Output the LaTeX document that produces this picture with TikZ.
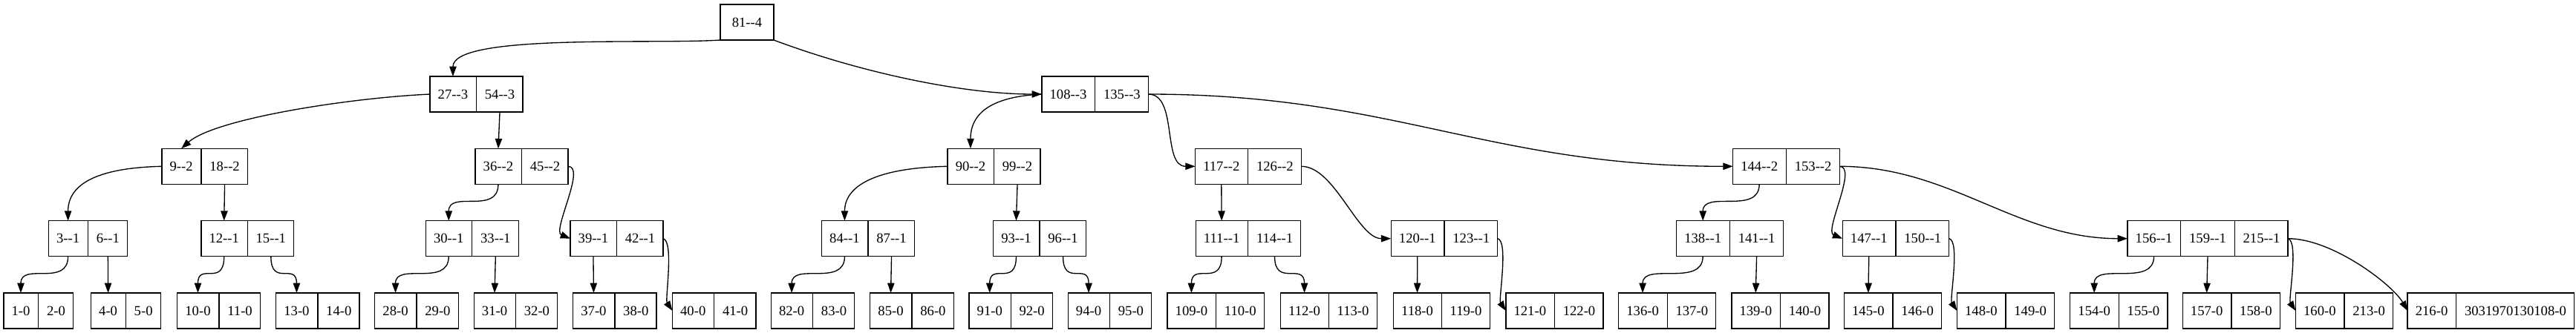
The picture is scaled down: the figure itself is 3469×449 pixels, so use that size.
\documentclass[tikz,border=0pt]{standalone}
\usepackage{fontspec}
\newfontfamily\gvfont{Liberation Serif}
\usetikzlibrary{shapes.multipart,arrows.meta}

\tikzset{
  fld/.style={draw, line width=1pt, outer sep=0pt, inner ysep=0pt, inner xsep=8pt,
    minimum height=36pt, font=\gvfont\fontsize{14}{16}\selectfont},
  rec/.style={fld, rectangle split, rectangle split horizontal, rectangle split parts=#1},
  edge/.style={line width=1pt, -{Triangle[length=10pt,width=7pt]}}
}

\begin{document}
\begin{tikzpicture}[x=0.75pt,y=-0.75pt]
\useasboundingbox (0,0) rectangle (3469,449);

% keys
\node[fld, minimum width=54pt] (n81) at (1006,30) {81--4};
\node[rec=2] (n27) at (641.5,127) {27--3\nodepart{two}54--3};
\node[rec=2] (n108) at (1474.7,127) {108--3\nodepart{two}135--3};

\node[rec=2] (n9) at (275.7,224.3) {9--2\nodepart{two}18--2};
\node[rec=2] (n36) at (702.5,224.3) {36--2\nodepart{two}45--2};
\node[rec=2] (n90) at (1338.5,224.3) {90--2\nodepart{two}99--2};
\node[rec=2] (n117) at (1681,224.3) {117--2\nodepart{two}126--2};
\node[rec=2] (n144) at (2405.4,224.3) {144--2\nodepart{two}153--2};

\node[rec=2] (n3) at (118.5,321.7) {3--1\nodepart{two}6--1};
\node[rec=2] (n12) at (333.3,321.7) {12--1\nodepart{two}15--1};
\node[rec=2] (n30) at (635.8,321.7) {30--1\nodepart{two}33--1};
\node[rec=2] (n39) at (830.5,321.7) {39--1\nodepart{two}42--1};
\node[rec=2] (n84) at (1169,321.7) {84--1\nodepart{two}87--1};
\node[rec=2] (n93) at (1400,321.7) {93--1\nodepart{two}96--1};
\node[rec=2] (n111) at (1681,321.7) {111--1\nodepart{two}114--1};
\node[rec=2] (n120) at (1945,321.7) {120--1\nodepart{two}123--1};
\node[rec=2] (n138) at (2329.4,321.7) {138--1\nodepart{two}141--1};
\node[rec=2] (n147) at (2553,321.7) {147--1\nodepart{two}150--1};
\node[rec=3] (n156) at (2973,321.7) {156--1\nodepart{two}159--1\nodepart{three}215--1};

% leaves
\foreach \x/\a/\b in {51.8/1/2, 169.4/4/5, 294.6/10/11, 427.9/13/14, 561/28/29,
  694.5/31/32, 827.9/37/38, 961.7/40/41, 1094.6/82/83, 1228/85/86, 1361.2/91/92,
  1494.5/94/95, 1637.2/109/110, 1789.3/112/113, 1941.3/118/119, 2093.4/121/122,
  2245.2/136/137, 2397.4/139/140, 2549/145/146, 2701/148/149, 2853.3/154/155,
  3004.8/157/158, 3157/160/213, 3354.3/216/3031970130108}
  \node[rec=2] (n\a) at (\x,419) {\a-0\nodepart{two}\b-0};

% level 0 -> 1
\draw[edge] (n81.south west) .. controls +(-90,6) and +(0,-58) .. (n27.one north);
\draw[edge] (n81.south east) .. controls +(120,45) and +(-104,0) .. (n108.west);

% level 1 -> 2
\draw[edge] (n27.west) .. controls +(-110,5) and +(45,-40) .. (n9.one north);
\draw[edge] (n27.two south) -- (n36.one north);
\draw[edge] (n108.west) .. controls +(-64,3) and +(0,-50) .. (n90.one north);
\draw[edge] (n108.east) .. controls +(40,0) and +(-45,0) .. (n117.west);
\draw[edge] (n108.east) .. controls +(330,0) and +(-330,0) .. (n144.west);

% level 2 -> 3
\draw[edge] (n9.west) .. controls +(-90,2) and +(0,-48) .. (n3.one north);
\draw[edge] (n9.two south) -- (n12.one north);
\draw[edge] (n36.one south) .. controls +(0,42) and +(0,-42) .. (n30.one north);
\draw[edge] (n36.east) .. controls +(25,0) and +(-25,-10) .. (n39.west);
\draw[edge] (n90.west) .. controls +(-95,2) and +(0,-48) .. (n84.one north);
\draw[edge] (n90.two south) -- (n93.one north);
\draw[edge] (n117.one south) -- (n111.one north);
\draw[edge] (n117.east) .. controls +(45,0) and +(-45,0) .. (n120.west);
\draw[edge] (n144.one south) .. controls +(0,42) and +(0,-42) .. (n138.one north);
\draw[edge] (n144.east) .. controls +(25,0) and +(-25,-10) .. (n147.west);
\draw[edge] (n144.east) .. controls +(150,0) and +(-150,0) .. (n156.west);

% level 3 -> 4
\foreach \s/\t in {n3.one south/n1, n12.one south/n10, n12.two south/n13,
  n30.one south/n28, n84.one south/n82, n93.one south/n91, n93.two south/n94,
  n111.one south/n109, n111.two south/n112, n138.one south/n136, n156.one south/n154}
  \draw[edge] (\s) .. controls +(0,42) and +(0,-42) .. (\t.one north);
\foreach \s/\t in {n3.two south/n4, n30.two south/n31, n39.one south/n37,
  n84.two south/n85, n120.one south/n118, n138.two south/n139,
  n147.one south/n145, n156.two south/n157}
  \draw[edge] (\s) -- (\t.one north);
\foreach \s/\t in {n39/n40, n120/n121, n147/n148, n156/n160}
  \draw[edge] (\s.east) .. controls +(15,3) and +(-10,-15) .. (\t.west);
\draw[edge] (n156.east) .. controls +(60,0) and +(-20,-35) .. (n216.west);
\end{tikzpicture}
\end{document}
